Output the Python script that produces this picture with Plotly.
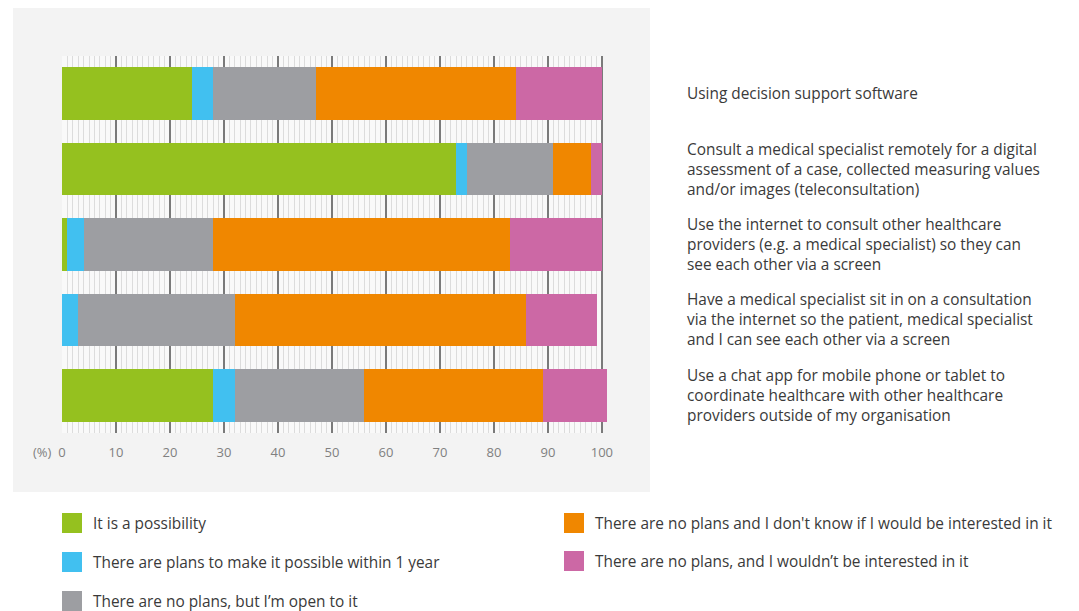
import plotly.graph_objects as go

# Survey items (top to bottom)
items = [
    "Using decision support software",
    "Consult a medical specialist remotely for a digital<br>assessment of a case, collected measuring values<br>and/or images (teleconsultation)",
    "Use the internet to consult other healthcare<br>providers (e.g. a medical specialist) so they can<br>see each other via a screen",
    "Have a medical specialist sit in on a consultation<br>via the internet so the patient, medical specialist<br>and I can see each other via a screen",
    "Use a chat app for mobile phone or tablet to<br>coordinate healthcare with other healthcare<br>providers outside of my organisation",
]

# Answer categories and their colours
answers = [
    "It is a possibility",
    "There are plans to make it possible within 1 year",
    "There are no plans, but I\u2019m open to it",
    "There are no plans and I don't know if I would be interested in it",
    "There are no plans, and I wouldn\u2019t be interested in it",
]
colors = ["#95c11f", "#41c0f0", "#9d9ea2", "#f08700", "#cc68a5"]

# Percentages per answer, one value per item (same order as items)
possible = [24, 73, 1, 0, 28]
plans_1yr = [4, 2, 3, 3, 4]
open_to_it = [19, 16, 24, 29, 24]
dont_know = [37, 7, 55, 54, 33]
not_interested = [16, 2, 17, 13, 12]
series = [possible, plans_1yr, open_to_it, dont_know, not_interested]

x_ticks = list(range(0, 101, 10))
minor_ticks = list(range(0, 101, 1))

ypos = list(range(len(items)))

fig = go.Figure()
for name, vals, col in zip(answers, series, colors):
    fig.add_trace(go.Bar(
        y=ypos, x=vals, name=name, orientation="h",
        marker=dict(color=col, line=dict(width=0)),
        width=0.7, showlegend=False, hoverinfo="x+name",
    ))

W, H = 1079, 611
L, R, T, B = 62, 469, 56, 178
PW, PH = W - L - R, H - T - B


def px_x(x):
    return (x - L) / PW


def px_y(y):
    return 1 - (y - T) / PH


LABEL_FONT = dict(family="Open Sans", size=15.4, color="#3a3a3a")

shapes = [
    # light grey panel behind the chart
    dict(type="rect", xref="paper", yref="paper",
         x0=px_x(13), x1=px_x(650), y0=px_y(492), y1=px_y(8),
         fillcolor="#f3f3f3", line=dict(width=0), layer="below"),
    # lighter plotting band from 0 to 100 %
    dict(type="rect", xref="x", yref="paper", x0=0, x1=100, y0=0, y1=1,
         fillcolor="#f9f9f9", line=dict(width=0), layer="below"),
]

annotations = []
# item descriptions to the right of each bar
for i, txt in enumerate(items):
    annotations.append(dict(
        x=px_x(685), xref="paper", y=i, yref="y", text=txt,
        showarrow=False, xanchor="left", yanchor="middle", align="left",
        font=LABEL_FONT,
    ))
# unit label next to the axis
annotations.append(dict(
    x=px_x(54), xref="paper", y=px_y(452), yref="paper", text="(%)",
    showarrow=False, xanchor="right", yanchor="middle",
    font=dict(family="Open Sans", size=13, color="#808080"),
))

# legend: two columns of colour swatches with labels
legend_pos = [(62, 523), (62, 562), (62, 601), (564, 523), (564, 561)]
for (lx, ly), name, col in zip(legend_pos, answers, colors):
    shapes.append(dict(
        type="rect", xref="paper", yref="paper",
        x0=px_x(lx), x1=px_x(lx + 20), y0=px_y(ly + 10), y1=px_y(ly - 10),
        fillcolor=col, line=dict(width=0),
    ))
    annotations.append(dict(
        x=px_x(lx + 29), xref="paper", y=px_y(ly), yref="paper", text=name,
        showarrow=False, xanchor="left", yanchor="middle",
        font=LABEL_FONT,
    ))

fig.update_layout(
    width=W, height=H,
    margin=dict(l=L, r=R, t=T, b=B, pad=0),
    paper_bgcolor="#ffffff", plot_bgcolor="rgba(0,0,0,0)",
    barmode="stack", bargap=0.3,
    shapes=shapes, annotations=annotations,
    font=dict(family="Open Sans"),
    xaxis=dict(
        range=[0, 101.5], tickmode="array", tickvals=x_ticks,
        showgrid=True, gridcolor="#7a7a7a", gridwidth=1.6,
        zeroline=False, showline=False, ticks="",
        tickfont=dict(family="Open Sans", size=13, color="#808080"),
        ticklabelstandoff=10,
        minor=dict(tickmode="array", tickvals=minor_ticks,
                   showgrid=True, gridcolor="#dcdcdc", gridwidth=1),
        fixedrange=True,
    ),
    yaxis=dict(
        range=[len(items) - 0.5, -0.5], showticklabels=False,
        showgrid=False, zeroline=False, showline=False, fixedrange=True,
    ),
)

fig.write_html("out.html")
